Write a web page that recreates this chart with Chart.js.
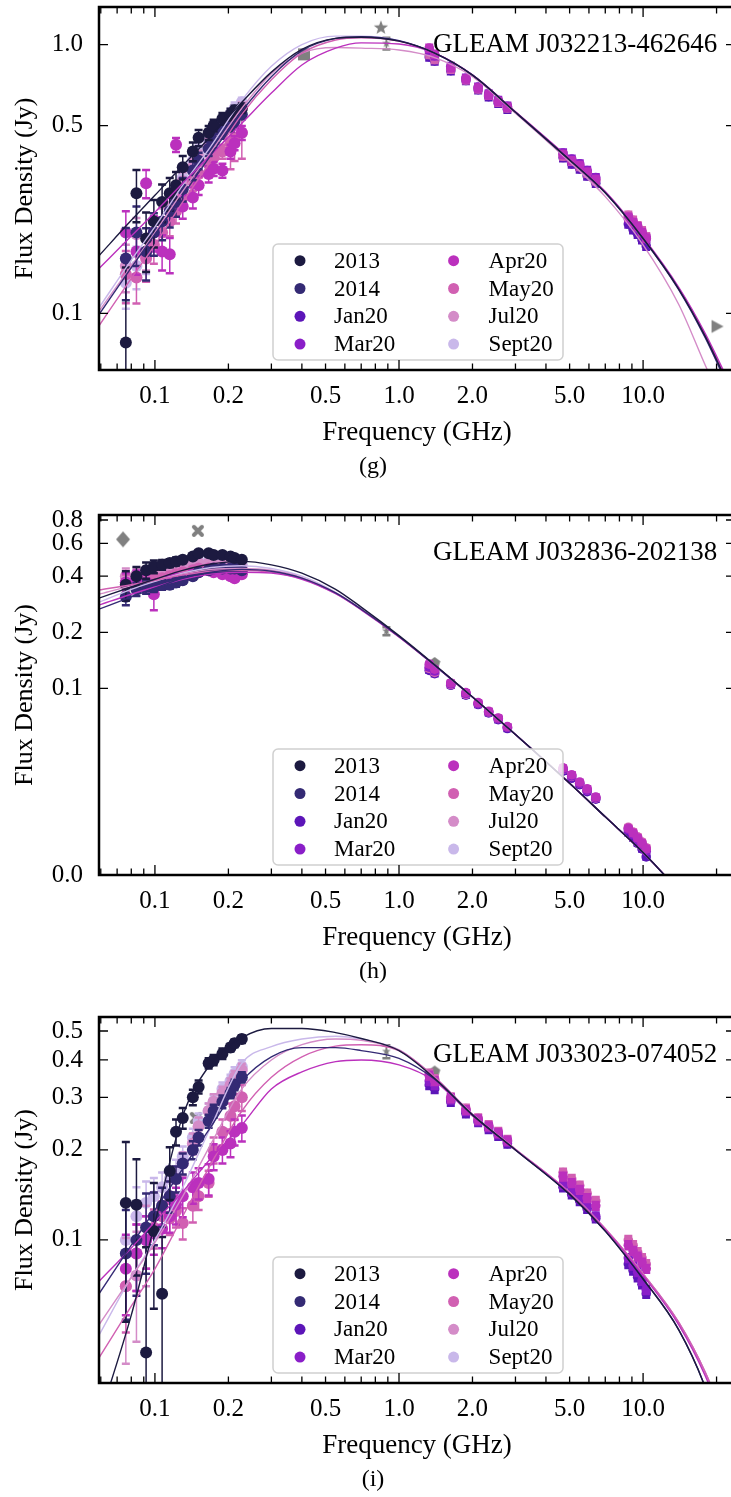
<!DOCTYPE html>
<html>
<head>
<meta charset="utf-8">
<script src="https://cdn.jsdelivr.net/npm/chart.js@4.4.0/dist/chart.umd.min.js"></script>
<style>
html, body { margin: 0; padding: 0; background: #fff; width: 731px; height: 1497px; overflow: hidden; }
canvas { position: absolute; left: 0; }
</style>
</head>
<body>
<canvas id="panelG" width="745" height="490" style="top:0;width:745px;height:490px"></canvas>
<canvas id="panelH" width="745" height="500" style="top:490px;width:745px;height:500px"></canvas>
<canvas id="panelI" width="745" height="507" style="top:990px;width:745px;height:507px"></canvas>
<script>
// epochs and colours
const epochs = ['2013', '2014', 'Jan20', 'Mar20', 'Apr20', 'May20', 'Jul20', 'Sept20'];
const epochColors = ['#1c1a40', '#342a74', '#5c15b8', '#8a1ec8', '#bb30bd', '#d160b2', '#d48cc8', '#c9b8ea'];
const grayColor = '#808080';
// which ATCA epoch sits on top (1 = topmost)
const atcaDrawRank = [0, 0, 4, 2, 1, 3, 0, 0];

// frequencies (GHz)
const mwaFreqs = [0.076, 0.084, 0.092, 0.099, 0.107, 0.115, 0.122, 0.130, 0.143, 0.151, 0.166, 0.174, 0.189, 0.204, 0.212, 0.227];
const atcaFreqs = [1.33, 1.40, 1.63, 1.88, 2.11, 2.33, 2.55, 2.78, 4.7, 5.1, 5.5, 5.9, 6.4, 8.7, 9.1, 9.5, 9.9, 10.3];
const fitFreqs = [0.059, 0.08, 0.1, 0.13, 0.17, 0.227, 0.3, 0.4, 0.55, 0.7, 1.0, 1.4, 2.0, 3.0, 5.0, 7.0, 10, 14, 18, 24];
const atcaErrPct = 3;

// axis ticks
const xRange = [0.059, 23.8];
const xTickVals = [0.1, 0.2, 0.5, 1, 2, 5, 10];
const xTickText = ['0.1', '0.2', '0.5', '1.0', '2.0', '5.0', '10.0'];
const xMajorVals = [0.1, 1, 10];
const xMinorVals = [0.06, 0.07, 0.08, 0.09, 0.2, 0.3, 0.4, 0.5, 0.6, 0.7, 0.8, 0.9, 2, 3, 4, 5, 6, 7, 8, 9, 20];

// ---------- panel (g) ----------
const gYRange = [0.0616, 1.38];
const gYTicks = [0.1, 0.5, 1.0];
const gYText = ['0.1', '0.5', '1.0'];
const gMwaFlux = [
  [0.078, 0.28, 0.19, 0.22, 0.26, 0.28, 0.3, 0.35, 0.4, 0.45, 0.47, 0.5, 0.53, 0.55, 0.57, 0.58],
  [0.16, 0.2, 0.17, 0.2, 0.22, 0.24, 0.26, 0.29, 0.34, 0.37, 0.41, 0.44, 0.47, 0.5, 0.52, 0.55],
  null, null,
  [0.2, 0.17, 0.305, 0.2, 0.17, 0.166, 0.424, 0.25, 0.27, 0.3, 0.33, 0.345, 0.34, 0.4, 0.43, 0.47],
  [0.14, 0.136, 0.16, 0.18, 0.2, 0.22, 0.24, 0.27, 0.31, 0.33, 0.36, 0.38, 0.4, 0.43, 0.45, 0.47],
  [0.15, 0.197, 0.17, 0.2, 0.22, 0.25, 0.28, 0.31, 0.35, 0.38, 0.42, 0.45, 0.49, 0.52, 0.55, 0.58],
  [0.13, 0.15, 0.165, 0.2, 0.22, 0.25, 0.28, 0.32, 0.37, 0.4, 0.44, 0.47, 0.51, 0.55, 0.58, 0.61]
];
const gMwaErrPct = [
  [90, 22, 25, 20, 16, 14, 12, 10, 8, 7, 6, 5, 5, 5, 4, 4],
  [30, 25, 22, 18, 15, 13, 12, 10, 8, 7, 6, 6, 5, 5, 5, 4],
  null, null,
  [20, 18, 12, 15, 15, 15, 6, 10, 9, 8, 7, 6, 6, 6, 6, 6],
  [22, 20, 18, 15, 14, 12, 10, 9, 8, 7, 7, 6, 6, 20, 18, 20],
  [20, 15, 15, 14, 12, 10, 9, 8, 7, 6, 6, 5, 5, 5, 5, 5],
  [20, 18, 15, 14, 12, 10, 9, 8, 7, 6, 6, 5, 5, 5, 5, 4]
];
const gAtcaFlux = [
  null, null,
  [0.90, 0.87, 0.80, 0.735, 0.68, 0.64, 0.605, 0.575, 0.38, 0.36, 0.345, 0.325, 0.305, 0.215, 0.205, 0.197, 0.188, 0.178],
  [0.95, 0.91, 0.83, 0.75, 0.695, 0.655, 0.62, 0.59, 0.395, 0.375, 0.36, 0.34, 0.32, 0.225, 0.216, 0.207, 0.198, 0.19],
  [0.97, 0.92, 0.82, 0.745, 0.69, 0.65, 0.615, 0.585, 0.39, 0.37, 0.355, 0.335, 0.315, 0.228, 0.218, 0.21, 0.2, 0.19],
  [0.92, 0.88, 0.81, 0.74, 0.685, 0.648, 0.612, 0.582, 0.385, 0.368, 0.352, 0.333, 0.312, 0.232, 0.222, 0.212, 0.203, 0.193],
  null, null
];
const gFits = [
  [0.164, 0.222, 0.275, 0.355, 0.457, 0.61, 0.79, 0.96, 1.055, 1.065, 1.03, 0.93, 0.77, 0.56, 0.372, 0.281, 0.19, 0.123, 0.082, 0.047],
  [0.099, 0.148, 0.197, 0.275, 0.39, 0.565, 0.76, 0.95, 1.055, 1.07, 1.035, 0.93, 0.77, 0.56, 0.372, 0.281, 0.19, 0.123, 0.081, 0.046],
  null, null,
  [0.147, 0.194, 0.238, 0.305, 0.39, 0.51, 0.66, 0.84, 0.97, 1.015, 1.005, 0.93, 0.772, 0.563, 0.376, 0.284, 0.192, 0.125, 0.084, 0.049],
  [0.09, 0.135, 0.18, 0.26, 0.37, 0.55, 0.74, 0.93, 1.04, 1.06, 1.03, 0.93, 0.771, 0.562, 0.375, 0.283, 0.191, 0.124, 0.083, 0.048],
  [0.102, 0.15, 0.2, 0.285, 0.4, 0.58, 0.78, 0.93, 0.975, 0.97, 0.955, 0.895, 0.76, 0.555, 0.366, 0.272, 0.18, 0.108, 0.064, 0.036],
  [0.105, 0.158, 0.21, 0.3, 0.42, 0.62, 0.83, 1.0, 1.075, 1.075, 1.035, 0.93, 0.77, 0.56, 0.372, 0.281, 0.19, 0.122, 0.081, 0.046]
];
const gOtherFreqs = [0.408, 0.843, 0.888, 20.0];
const gOtherFlux = [0.92, 1.155, 1.01, 0.0895];
const gOtherErrPct = [0, 0, 5, 0];
const gOtherShapes = ['square', 'star', 'small', 'tri'];

// ---------- panel (h) ----------
const hYRange = [0.01, 0.851];
const hYTicks = [0.01, 0.1, 0.2, 0.4, 0.6, 0.8];
const hYText = ['0.0', '0.1', '0.2', '0.4', '0.6', '0.8'];
const hMwaFlux = [
  [0.36, 0.4, 0.43, 0.45, 0.46, 0.47, 0.48, 0.49, 0.51, 0.53, 0.53, 0.52, 0.52, 0.51, 0.5, 0.49],
  [0.31, 0.34, 0.35, 0.35, 0.36, 0.36, 0.37, 0.38, 0.4, 0.42, 0.43, 0.44, 0.44, 0.44, 0.44, 0.43],
  null, null,
  [0.37, 0.39, 0.37, 0.32, 0.36, 0.38, 0.39, 0.39, 0.41, 0.42, 0.43, 0.42, 0.41, 0.4, 0.39, 0.41],
  [0.37, 0.38, 0.38, 0.38, 0.39, 0.4, 0.41, 0.42, 0.43, 0.44, 0.44, 0.44, 0.43, 0.43, 0.42, 0.42],
  [0.4, 0.41, 0.42, 0.43, 0.43, 0.44, 0.45, 0.46, 0.46, 0.47, 0.47, 0.46, 0.46, 0.45, 0.45, 0.44],
  [0.36, 0.39, 0.41, 0.42, 0.43, 0.44, 0.45, 0.46, 0.47, 0.48, 0.48, 0.47, 0.47, 0.46, 0.46, 0.46]
];
const hMwaErrPct = [
  [18, 12, 10, 8, 6, 5, 5, 4, 4, 3, 3, 3, 3, 3, 3, 3],
  [10, 8, 8, 6, 6, 5, 5, 4, 4, 3, 3, 3, 3, 3, 3, 3],
  null, null,
  [12, 10, 10, 18, 6, 5, 5, 4, 4, 4, 3, 3, 3, 3, 3, 3],
  [10, 8, 7, 6, 5, 5, 4, 4, 4, 3, 3, 3, 3, 3, 3, 3],
  [10, 8, 7, 6, 5, 5, 4, 4, 4, 3, 3, 3, 3, 3, 3, 3],
  [10, 8, 7, 6, 5, 5, 4, 4, 4, 3, 3, 3, 3, 3, 3, 3]
];
const hAtcaFlux = [
  null, null,
  [0.125, 0.12, 0.104, 0.092, 0.082, 0.074, 0.068, 0.061, 0.036, 0.033, 0.0305, 0.028, 0.0255, 0.0168, 0.0158, 0.0148, 0.0138, 0.0125],
  [0.13, 0.124, 0.106, 0.094, 0.083, 0.075, 0.069, 0.062, 0.037, 0.034, 0.031, 0.0285, 0.026, 0.0175, 0.0165, 0.0155, 0.0145, 0.0134],
  [0.135, 0.127, 0.107, 0.095, 0.084, 0.0755, 0.0695, 0.0625, 0.0375, 0.0345, 0.0315, 0.029, 0.0262, 0.0178, 0.0168, 0.0158, 0.0148, 0.0138],
  [0.128, 0.122, 0.105, 0.093, 0.083, 0.0748, 0.069, 0.062, 0.0368, 0.0338, 0.031, 0.0285, 0.0258, 0.018, 0.017, 0.016, 0.015, 0.014],
  null, null
];
const hFits = [
  [0.305, 0.35, 0.385, 0.43, 0.465, 0.48, 0.46, 0.415, 0.34, 0.273, 0.192, 0.134, 0.09, 0.0566, 0.031, 0.0205, 0.0132, 0.0082, 0.0055, 0.0033],
  [0.266, 0.31, 0.345, 0.39, 0.42, 0.435, 0.425, 0.39, 0.325, 0.266, 0.19, 0.133, 0.09, 0.0566, 0.031, 0.0205, 0.0132, 0.0082, 0.0055, 0.0033],
  null, null,
  [0.28, 0.32, 0.35, 0.385, 0.41, 0.42, 0.415, 0.385, 0.322, 0.264, 0.189, 0.133, 0.09, 0.0566, 0.031, 0.0205, 0.0132, 0.0082, 0.0055, 0.0033],
  [0.337, 0.36, 0.38, 0.405, 0.425, 0.43, 0.42, 0.388, 0.323, 0.265, 0.189, 0.133, 0.09, 0.0566, 0.031, 0.0205, 0.0132, 0.0082, 0.0055, 0.0033],
  [0.32, 0.355, 0.38, 0.41, 0.435, 0.44, 0.43, 0.393, 0.325, 0.266, 0.19, 0.133, 0.09, 0.0566, 0.031, 0.0205, 0.0132, 0.0082, 0.0055, 0.0033],
  [0.29, 0.34, 0.375, 0.415, 0.445, 0.455, 0.44, 0.4, 0.328, 0.267, 0.19, 0.133, 0.09, 0.0566, 0.031, 0.0205, 0.0132, 0.0082, 0.0055, 0.0033]
];
const hOtherFreqs = [0.074, 0.15, 0.888, 1.4];
const hOtherFlux = [0.63, 0.70, 0.203, 0.137];
const hOtherErrPct = [0, 0, 5, 0];
const hOtherShapes = ['diamond', 'x', 'small', 'pentagon'];

// ---------- panel (i) ----------
const iYRange = [0.0332, 0.557];
const iYTicks = [0.1, 0.2, 0.3, 0.4, 0.5];
const iYText = ['0.1', '0.2', '0.3', '0.4', '0.5'];
const iMwaFlux = [
  [0.133, 0.131, 0.042, 0.107, 0.066, 0.17, 0.23, 0.256, 0.3, 0.325, 0.39, 0.4, 0.42, 0.44, 0.455, 0.47],
  [0.09, 0.1, 0.11, 0.12, 0.13, 0.14, 0.16, 0.18, 0.2, 0.22, 0.25, 0.27, 0.29, 0.31, 0.33, 0.35],
  null, null,
  [0.08, 0.09, 0.1, 0.105, 0.109, 0.12, 0.131, 0.14, 0.15, 0.155, 0.16, 0.19, 0.2, 0.21, 0.23, 0.237],
  [0.07, 0.09, 0.1, 0.11, 0.12, 0.118, 0.125, 0.114, 0.13, 0.14, 0.155, 0.2, 0.23, 0.26, 0.28, 0.3],
  [0.07, 0.076, 0.1, 0.12, 0.13, 0.14, 0.16, 0.18, 0.21, 0.24, 0.27, 0.29, 0.31, 0.33, 0.35, 0.37],
  [0.1, 0.12, 0.133, 0.14, 0.15, 0.16, 0.17, 0.19, 0.22, 0.25, 0.27, 0.29, 0.32, 0.34, 0.36, 0.38]
];
const iMwaErrPct = [
  [60, 42, 125, 45, 55, 20, 10, 8, 6, 5, 4, 4, 4, 3, 3, 3],
  [40, 35, 30, 20, 15, 12, 10, 8, 7, 6, 5, 5, 5, 4, 4, 4],
  null, null,
  [30, 25, 20, 15, 14, 12, 14, 15, 12, 12, 12, 10, 10, 10, 10, 10],
  [30, 25, 20, 15, 12, 12, 12, 12, 12, 10, 10, 10, 10, 10, 10, 10],
  [45, 40, 30, 20, 15, 12, 10, 9, 8, 7, 6, 6, 5, 5, 5, 5],
  [30, 25, 18, 15, 12, 10, 9, 8, 7, 6, 6, 5, 5, 5, 5, 5]
];
const iAtcaFlux = [
  null, null,
  [0.33, 0.32, 0.29, 0.265, 0.248, 0.235, 0.223, 0.21, 0.15, 0.142, 0.135, 0.127, 0.118, 0.083, 0.079, 0.075, 0.071, 0.066],
  [0.34, 0.33, 0.295, 0.27, 0.25, 0.238, 0.226, 0.213, 0.153, 0.145, 0.138, 0.13, 0.12, 0.087, 0.082, 0.078, 0.073, 0.068],
  [0.355, 0.34, 0.298, 0.272, 0.253, 0.24, 0.228, 0.215, 0.163, 0.155, 0.147, 0.138, 0.13, 0.096, 0.092, 0.088, 0.084, 0.08],
  [0.36, 0.345, 0.3, 0.275, 0.255, 0.242, 0.23, 0.216, 0.168, 0.16, 0.152, 0.143, 0.135, 0.1, 0.096, 0.091, 0.087, 0.083],
  null, null
];
const iFits = [
  [0.025, 0.056, 0.114, 0.26, 0.39, 0.475, 0.51, 0.51, 0.494, 0.472, 0.43, 0.347, 0.262, 0.2, 0.142, 0.107, 0.074, 0.05, 0.032, 0.015],
  [0.066, 0.096, 0.126, 0.173, 0.24, 0.34, 0.41, 0.44, 0.44, 0.43, 0.405, 0.345, 0.262, 0.2, 0.142, 0.107, 0.074, 0.05, 0.032, 0.015],
  null, null,
  [0.0726, 0.094, 0.115, 0.145, 0.188, 0.242, 0.32, 0.365, 0.395, 0.4, 0.385, 0.34, 0.26, 0.2, 0.143, 0.108, 0.076, 0.052, 0.035, 0.019],
  [0.0403, 0.06, 0.08, 0.12, 0.18, 0.27, 0.35, 0.41, 0.445, 0.45, 0.43, 0.35, 0.263, 0.201, 0.144, 0.109, 0.077, 0.053, 0.036, 0.02],
  [0.052, 0.075, 0.098, 0.14, 0.21, 0.32, 0.4, 0.45, 0.47, 0.465, 0.432, 0.35, 0.263, 0.201, 0.144, 0.109, 0.077, 0.053, 0.036, 0.02],
  [0.048, 0.075, 0.1, 0.15, 0.24, 0.39, 0.443, 0.47, 0.48, 0.47, 0.432, 0.35, 0.263, 0.201, 0.144, 0.109, 0.077, 0.053, 0.036, 0.02]
];
const iOtherFreqs = [0.147, 0.888, 1.4];
const iOtherFlux = [0.256, 0.427, 0.366];
const iOtherErrPct = [0, 5, 0];
const iOtherShapes = ['x', 'small', 'pentagon'];

const serif = '"Liberation Serif", "DejaVu Serif", serif';
Chart.defaults.font.family = serif;
Chart.defaults.color = '#000';

// gray markers for the other surveys
function makeMarker(shape) {
    const c = document.createElement('canvas');
    c.width = 20; c.height = 20;
    const g = c.getContext('2d');
    g.translate(10, 10);
    g.fillStyle = grayColor;
    g.strokeStyle = grayColor;
    g.beginPath();
    if (shape === 'square') {
        g.rect(-6, -6, 12, 12);
    } else if (shape === 'star' || shape === 'small') {
        const ro = shape === 'star' ? 7.5 : 4.5, ri = ro * 0.42;
        for (let k = 0; k < 10; k++) {
            const r = k % 2 ? ri : ro;
            const a = -Math.PI / 2 + k * Math.PI / 5;
            g.lineTo(r * Math.cos(a), r * Math.sin(a));
        }
        g.closePath();
    } else if (shape === 'tri') {
        g.moveTo(-5, -6.5); g.lineTo(7, 0); g.lineTo(-5, 6.5); g.closePath();
    } else if (shape === 'diamond') {
        g.moveTo(0, -8); g.lineTo(7, 0); g.lineTo(0, 8); g.lineTo(-7, 0); g.closePath();
    } else if (shape === 'pentagon') {
        for (let k = 0; k < 5; k++) {
            const a = -Math.PI / 2 + k * 2 * Math.PI / 5;
            g.lineTo(6 * Math.cos(a), 6 * Math.sin(a));
        }
        g.closePath();
    }
    if (shape === 'x') {
        g.lineWidth = 4; g.lineCap = 'round';
        g.moveTo(-4, -4); g.lineTo(4, 4); g.moveTo(4, -4); g.lineTo(-4, 4);
        g.stroke();
    } else {
        g.fill();
    }
    return c;
}
const markerImages = {};
['square', 'star', 'small', 'tri', 'diamond', 'pentagon', 'x'].forEach(s => { markerImages[s] = makeMarker(s); });

// error bars, drawn just under each point dataset
const errorBars = {
    id: 'errorBars',
    beforeDatasetDraw(chart, args) {
        const ds = chart.data.datasets[args.index];
        if (!ds.errs) return;
        const { ctx, chartArea: a } = chart;
        const xs = chart.scales.x, ys = chart.scales.y;
        ctx.save();
        ctx.beginPath();
        ctx.rect(a.left, a.top, a.right - a.left, a.bottom - a.top);
        ctx.clip();
        ctx.strokeStyle = ds.pointBackgroundColor;
        ds.data.forEach((p, i) => {
            const e = ds.errs[i];
            if (!e) return;
            const px = xs.getPixelForValue(p.x);
            const top = ys.getPixelForValue(p.y + e);
            const bot = p.y - e > 0 ? ys.getPixelForValue(p.y - e) : a.bottom + 10;
            ctx.lineWidth = 1.5;
            ctx.beginPath();
            ctx.moveTo(px, top); ctx.lineTo(px, bot);
            ctx.stroke();
            ctx.lineWidth = 2.5;
            ctx.beginPath();
            ctx.moveTo(px - 4, top); ctx.lineTo(px + 4, top);
            ctx.moveTo(px - 4, bot); ctx.lineTo(px + 4, bot);
            ctx.stroke();
        });
        ctx.restore();
    }
};

// frame, inward ticks, legend and labels
const panelDeco = {
    id: 'panelDeco',
    afterDatasetsDraw(chart, args, opts) {
        const { ctx, chartArea: a } = chart;
        ctx.save();
        // source name
        ctx.fillStyle = '#000';
        ctx.font = '27px ' + serif;
        ctx.textAlign = 'left';
        ctx.textBaseline = 'middle';
        ctx.fillText(opts.name, 433, a.top + 38);
        // legend box
        const bx = a.left + 174, bw = 290, bh = 116, by = a.bottom - 10 - bh;
        ctx.beginPath();
        ctx.roundRect(bx, by, bw, bh, 5);
        ctx.fillStyle = 'rgba(255,255,255,0.8)';
        ctx.fill();
        ctx.strokeStyle = '#d0d0d0';
        ctx.lineWidth = 1.5;
        ctx.stroke();
        ctx.font = '23px ' + serif;
        epochs.forEach((name, k) => {
            const col = k < 4 ? 0 : 1, row = k % 4;
            const my = by + 16.7 + row * 27.8;
            ctx.fillStyle = epochColors[k];
            ctx.beginPath();
            ctx.arc(bx + (col ? 180.6 : 27), my, 5.5, 0, Math.PI * 2);
            ctx.fill();
            ctx.fillStyle = '#000';
            ctx.fillText(name, bx + (col ? 215.6 : 61), my + 1);
        });
        ctx.restore();
    },
    afterDraw(chart, args, opts) {
        const { ctx, chartArea: a } = chart;
        const xs = chart.scales.x, ys = chart.scales.y;
        ctx.save();
        ctx.strokeStyle = '#000';
        ctx.lineWidth = 1.3;
        ctx.beginPath();
        xMajorVals.concat(xMinorVals).forEach(v => {
            const px = xs.getPixelForValue(v);
            const len = xMajorVals.includes(v) ? 10 : 6.5;
            ctx.moveTo(px, a.bottom); ctx.lineTo(px, a.bottom - len);
            ctx.moveTo(px, a.top); ctx.lineTo(px, a.top + len);
        });
        opts.yTicks.forEach(v => {
            const py = ys.getPixelForValue(v);
            ctx.moveTo(a.left, py); ctx.lineTo(a.left + 9, py);
            ctx.moveTo(a.right, py); ctx.lineTo(a.right - 9, py);
        });
        ctx.stroke();
        ctx.lineWidth = 2.5;
        ctx.strokeRect(a.left, a.top, a.right - a.left, a.bottom - a.top);
        // sub-figure label
        ctx.fillStyle = '#000';
        ctx.font = '24px ' + serif;
        ctx.textAlign = 'center';
        ctx.textBaseline = 'middle';
        ctx.fillText(opts.sub, 373, a.bottom + 97);
        ctx.restore();
    }
};

function buildPanel(id, p) {
    const datasets = [];
    // fitted curves
    epochs.forEach((name, k) => {
        if (!p.fits[k]) return;
        datasets.push({
            label: name + ' fit',
            data: fitFreqs.map((f, i) => ({ x: f, y: p.fits[k][i] })),
            showLine: true,
            borderColor: epochColors[k],
            borderWidth: 1.4,
            pointRadius: 0,
            cubicInterpolationMode: 'monotone',
            order: 0
        });
    });
    // MWA and ATCA measurements
    epochs.forEach((name, k) => {
        if (p.mwa[k]) {
            datasets.push({
                label: name,
                data: mwaFreqs.map((f, i) => ({ x: f, y: p.mwa[k][i] })),
                errs: p.mwa[k].map((v, i) => v * p.mwaErr[k][i] / 100),
                pointBackgroundColor: epochColors[k],
                pointBorderWidth: 0,
                pointRadius: 6,
                order: 1 + k / 100
            });
        }
        if (p.atca[k]) {
            datasets.push({
                label: name + ' ATCA',
                data: atcaFreqs.map((f, i) => ({ x: f, y: p.atca[k][i] })),
                errs: p.atca[k].map(v => v * atcaErrPct / 100),
                pointBackgroundColor: epochColors[k],
                pointBorderWidth: 0,
                pointRadius: 4.8,
                order: 1 + atcaDrawRank[k] / 100
            });
        }
    });
    // other surveys
    datasets.push({
        label: 'other',
        data: p.otherFreqs.map((f, i) => ({ x: f, y: p.otherFlux[i] })),
        errs: p.otherFlux.map((v, i) => v * p.otherErr[i] / 100),
        pointStyle: p.otherShapes.map(s => markerImages[s]),
        pointBackgroundColor: grayColor,
        pointRadius: 6,
        order: 2
    });

    return new Chart(document.getElementById(id), {
        type: 'scatter',
        data: { datasets },
        options: {
            responsive: false,
            animation: false,
            devicePixelRatio: 1,
            layout: { padding: { top: p.padTop, right: 10, left: 0, bottom: 0 } },
            plugins: {
                legend: { display: false },
                tooltip: { enabled: false },
                panelDeco: { name: p.name, sub: p.sub, yTicks: p.yTicks }
            },
            scales: {
                x: {
                    type: 'logarithmic',
                    min: xRange[0],
                    max: xRange[1],
                    afterBuildTicks: s => { s.ticks = xTickVals.map(v => ({ value: v })); },
                    afterFit: s => { s.height = p.xAxisH; s.paddingLeft = 0; s.paddingRight = 0; },
                    ticks: {
                        callback: v => xTickText[xTickVals.indexOf(v)],
                        font: { size: 25 },
                        padding: 11,
                        maxRotation: 0,
                        autoSkip: false
                    },
                    grid: { display: false, drawTicks: false },
                    border: { display: false },
                    title: {
                        display: true,
                        text: 'Frequency (GHz)',
                        font: { size: 27 },
                        padding: { top: 0, bottom: p.xAxisH - 63 - 16.2 }
                    }
                },
                y: {
                    type: 'logarithmic',
                    min: p.yRange[0],
                    max: p.yRange[1],
                    afterBuildTicks: s => { s.ticks = p.yTicks.map(v => ({ value: v })); },
                    afterFit: s => { s.width = 99; s.paddingTop = 0; s.paddingBottom = 0; },
                    ticks: {
                        callback: v => p.yText[p.yTicks.indexOf(v)],
                        font: { size: 25 },
                        padding: 16,
                        autoSkip: false
                    },
                    grid: { display: false, drawTicks: false },
                    border: { display: false },
                    title: {
                        display: true,
                        text: 'Flux Density (Jy)',
                        font: { size: 26 },
                        padding: { top: 10, bottom: 0 }
                    }
                }
            }
        },
        plugins: [errorBars, panelDeco]
    });
}

buildPanel('panelG', {
    name: 'GLEAM J032213-462646', sub: '(g)', padTop: 4, xAxisH: 120,
    yRange: gYRange, yTicks: gYTicks, yText: gYText,
    mwa: gMwaFlux, mwaErr: gMwaErrPct, atca: gAtcaFlux, fits: gFits,
    otherFreqs: gOtherFreqs, otherFlux: gOtherFlux, otherErr: gOtherErrPct, otherShapes: gOtherShapes
});
buildPanel('panelH', {
    name: 'GLEAM J032836-202138', sub: '(h)', padTop: 25, xAxisH: 115,
    yRange: hYRange, yTicks: hYTicks, yText: hYText,
    mwa: hMwaFlux, mwaErr: hMwaErrPct, atca: hAtcaFlux, fits: hFits,
    otherFreqs: hOtherFreqs, otherFlux: hOtherFlux, otherErr: hOtherErrPct, otherShapes: hOtherShapes
});
buildPanel('panelI', {
    name: 'GLEAM J033023-074052', sub: '(i)', padTop: 27, xAxisH: 114,
    yRange: iYRange, yTicks: iYTicks, yText: iYText,
    mwa: iMwaFlux, mwaErr: iMwaErrPct, atca: iAtcaFlux, fits: iFits,
    otherFreqs: iOtherFreqs, otherFlux: iOtherFlux, otherErr: iOtherErrPct, otherShapes: iOtherShapes
});
</script>
</body>
</html>
